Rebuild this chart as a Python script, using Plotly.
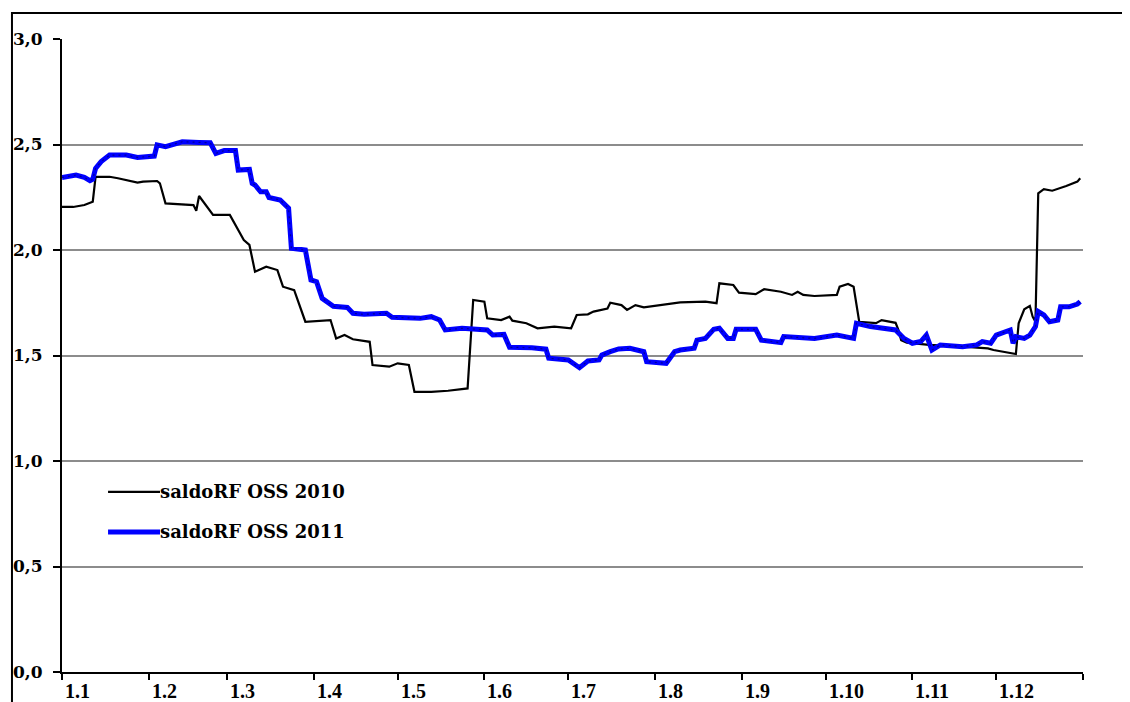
import pandas as pd
import plotly.graph_objects as go

# ---- data (day of year offset, value) ----
days_2010 = [0,4,8,11,12,17,20,23,27,29,34,35,37,47,48,49,52,54,60,61,65,67,69,73,77,79,83,87,96,98,
             101,104,110,111,117,120,124,126,132,138,145,147,151,152,157,160,161,166,170,176,182,184,188,190,195,
             196,200,202,205,208,214,221,230,234,235,240,242,248,251,257,261,263,265,269,277,278,281,283,285,291,
             293,298,299,300,302,310,322,331,333,341,342,344,346,347,348,349,351,354,359,363,364]
vals_2010 = [2.204,2.204,2.213,2.229,2.347,2.347,2.340,2.332,2.319,2.324,2.327,2.316,2.221,2.213,2.186,
             2.256,2.202,2.166,2.166,2.142,2.047,2.024,1.897,1.921,1.905,1.826,1.810,1.660,1.668,1.581,
             1.597,1.577,1.565,1.455,1.447,1.463,1.455,1.328,1.328,1.333,1.344,1.763,1.755,1.676,1.668,
             1.684,1.665,1.653,1.629,1.637,1.629,1.692,1.695,1.708,1.723,1.750,1.739,1.716,1.739,1.728,
             1.739,1.752,1.755,1.748,1.842,1.834,1.798,1.791,1.814,1.802,1.787,1.802,1.787,1.782,1.787,
             1.826,1.839,1.826,1.660,1.653,1.668,1.655,1.621,1.573,1.561,1.550,1.542,1.534,1.526,1.507,
             1.653,1.719,1.735,1.684,1.660,2.269,2.288,2.281,2.303,2.324,2.340]

days_2011 = [0,5,8,10,11,12,14,17,23,27,33,34,37,40,43,49,53,55,58,62,63,67,68,69,71,73,74,78,81,82,
             87,89,91,93,97,102,104,108,116,118,128,132,135,137,143,152,154,158,160,168,173,174,181,185,188,
             192,193,196,199,203,207,208,209,216,219,221,226,227,230,233,235,238,240,241,248,250,257,258,269,277,
             283,284,289,298,301,304,307,309,311,314,322,327,329,332,334,337,339,340,341,344,346,348,349,351,353,
             356,357,360,363,364]
vals_2011 = [2.344,2.355,2.344,2.329,2.335,2.387,2.419,2.450,2.450,2.439,2.445,2.498,2.490,2.502,2.513,
             2.510,2.508,2.458,2.471,2.471,2.379,2.382,2.316,2.308,2.276,2.276,2.249,2.237,2.198,2.008,
             2.000,1.858,1.850,1.771,1.733,1.728,1.700,1.695,1.700,1.681,1.676,1.684,1.668,1.621,1.629,
             1.621,1.597,1.600,1.539,1.537,1.530,1.487,1.479,1.442,1.474,1.479,1.502,1.518,1.531,1.534,
             1.521,1.518,1.471,1.463,1.518,1.526,1.534,1.573,1.581,1.624,1.629,1.581,1.581,1.624,1.624,
             1.573,1.561,1.590,1.581,1.597,1.581,1.653,1.637,1.621,1.581,1.558,1.566,1.597,1.526,1.550,
             1.542,1.550,1.566,1.558,1.597,1.613,1.621,1.558,1.589,1.581,1.597,1.637,1.708,1.692,1.660,
             1.668,1.731,1.731,1.744,1.755]

month_labels = ["1.1","1.2","1.3","1.4","1.5","1.6","1.7","1.8","1.9","1.10","1.11","1.12"]
y_ticks = [0.0, 0.5, 1.0, 1.5, 2.0, 2.5, 3.0]
y_ticktext = ["0,0","0,5","1,0","1,5","2,0","2,5","3,0"]
series_names = ["saldoRF OSS 2010", "saldoRF OSS 2011"]

base = pd.Timestamp("2011-01-01")
x2010 = base + pd.to_timedelta(days_2010, unit="D")
x2011 = base + pd.to_timedelta(days_2011, unit="D")
month_starts = pd.date_range("2011-01-01", periods=13, freq="MS")

fig = go.Figure()
fig.add_trace(go.Scatter(x=x2010, y=vals_2010, mode="lines", name=series_names[0],
                         line=dict(color="black", width=2.2), showlegend=False))
fig.add_trace(go.Scatter(x=x2011, y=vals_2011, mode="lines", name=series_names[1],
                         line=dict(color="#0000ff", width=5), showlegend=False))
fig.add_trace(go.Scatter(x=x2011, y=vals_2011, mode="lines", hoverinfo="skip",
                         line=dict(color="rgba(0,0,60,0.55)", width=1.2, dash="2px,4px"),
                         showlegend=False))

# page body has an 8px margin; figure is sized so the plot lands where the reference has it
fig.update_layout(
    width=1122, height=694,
    margin=dict(l=54, r=47, t=31, b=30, autoexpand=False),
    paper_bgcolor="white", plot_bgcolor="white",
    font=dict(family="DejaVu Serif", color="black"),
)
fig.update_xaxes(
    type="date", automargin=False,
    range=[month_starts[0], month_starts[-1]],
    tickvals=month_starts, showticklabels=False,
    ticks="outside", ticklen=6, tickwidth=2, tickcolor="black",
    showline=True, linecolor="black", linewidth=2,
    showgrid=False, zeroline=False,
)
fig.update_yaxes(
    range=[0, 3], tickvals=y_ticks, ticktext=y_ticktext, automargin=False,
    ticks="outside", ticklen=7, tickwidth=2, tickcolor="black",
    ticklabelstandoff=7,
    tickfont=dict(family="DejaVu Serif", size=17, weight="bold", color="black"),
    showline=True, linecolor="black", linewidth=2,
    showgrid=True, gridcolor="#8c8c8c", gridwidth=2, zeroline=False,
)

# month labels, left-aligned at each month start
for d, lab in zip(month_starts[:-1], month_labels):
    fig.add_annotation(x=d, y=0, xref="x", yref="paper", text=lab, showarrow=False,
                       xanchor="left", yanchor="middle", xshift=1, yshift=-19,
                       font=dict(family="Liberation Serif", size=20, weight="bold", color="black"))

# outer border (extends beyond the picture on right and bottom)
fig.add_shape(type="rect", xref="paper", yref="paper", x0=-0.049, x1=1.08, y0=-0.12, y1=1.041,
              line=dict(color="black", width=2), fillcolor="rgba(0,0,0,0)", layer="above")

# legend drawn inside the plot
leg_y = [0.2844, 0.2212]
leg_style = [dict(color="black", width=2.2), dict(color="#0000ff", width=5)]
for yy, st, name in zip(leg_y, leg_style, series_names):
    fig.add_shape(type="line", xref="paper", yref="paper", x0=0.0451, x1=0.096, y0=yy, y1=yy,
                  line=st)
    fig.add_annotation(x=0.096, y=yy, xref="paper", yref="paper", text=name, showarrow=False,
                       xanchor="left", yanchor="middle", xshift=-2,
                       font=dict(family="DejaVu Serif", size=18, weight="bold", color="black"))

fig.write_html("out.html")
